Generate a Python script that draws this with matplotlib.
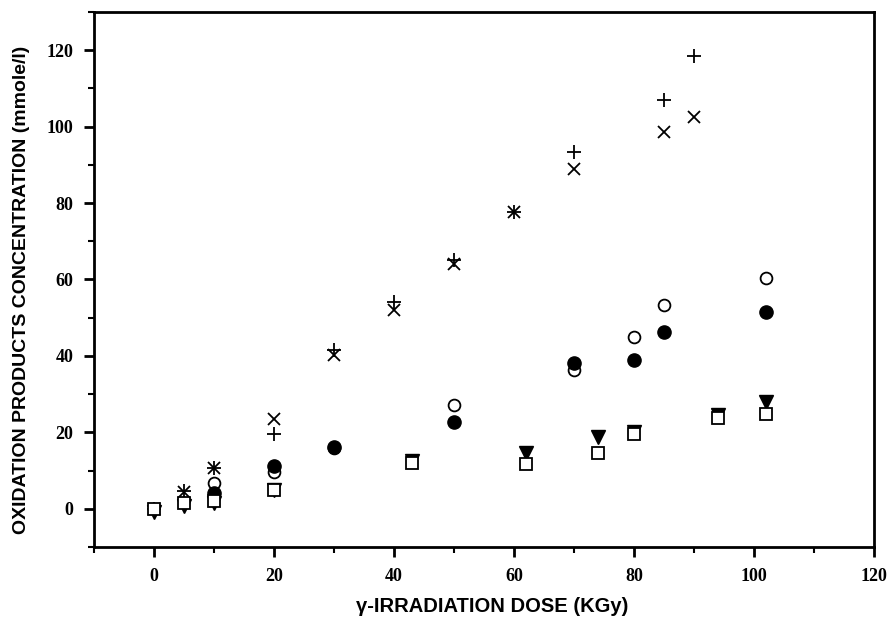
import numpy as np
import matplotlib.pyplot as plt
from matplotlib.ticker import MultipleLocator

# dose (KGy) vs concentration (mmole/l)
plus_x = [0, 5, 10, 20, 30, 40, 50, 60, 70, 85, 90]
plus_y = [0, 4.7, 10.7, 19.6, 41.5, 54.0, 65.2, 77.6, 93.4, 107.1, 118.4]

cross_x = [0, 5, 10, 20, 30, 40, 50, 60, 70, 85, 90]
cross_y = [0, 4.5, 10.7, 23.6, 40.3, 52.0, 64.0, 77.6, 88.9, 98.7, 102.6]

open_circ_x = [10, 20, 30, 50, 70, 80, 85, 102]
open_circ_y = [6.8, 9.5, 16.0, 27.1, 36.3, 45.0, 53.2, 60.3]

fill_circ_x = [10, 20, 30, 50, 70, 80, 85, 102]
fill_circ_y = [4.2, 11.3, 16.1, 22.7, 38.2, 39.0, 46.3, 51.6]

tri_x = [0, 5, 10, 20, 43, 62, 74, 80, 94, 102]
tri_y = [-0.9, 0.8, 1.6, 4.8, 12.6, 14.7, 18.7, 20.2, 24.6, 27.9]

sq_x = [0, 5, 10, 20, 43, 62, 74, 80, 94, 102]
sq_y = [0, 1.6, 2.1, 5.0, 12.1, 11.8, 14.7, 19.5, 23.7, 24.7]

plt.rcParams['font.family'] = 'Liberation Serif'
plt.rcParams['font.weight'] = 'bold'

fig = plt.figure(figsize=(8.91, 6.19), dpi=100)
ax = fig.add_axes([94/891, 1 - 547/619, (874-94)/891, (547-12)/619])

ax.plot(plus_x, plus_y, ls='none', marker='+', ms=10, mew=1.3, color='black')
ax.plot(cross_x, cross_y, ls='none', marker='x', ms=9, mew=1.3, color='black')
ax.plot(tri_x, tri_y, ls='none', marker='v', ms=10, color='black')
ax.plot(open_circ_x, open_circ_y, ls='none', marker='o', ms=8.5, mew=1.3, mfc='white', color='black')
ax.plot(fill_circ_x, fill_circ_y, ls='none', marker='o', ms=9.5, color='black')
ax.plot(sq_x, sq_y, ls='none', marker='s', ms=8, mew=1.3, mfc='white', color='black')

ax.set_xlim(-10, 120)
ax.set_ylim(-10, 130)
ax.xaxis.set_major_locator(MultipleLocator(20))
ax.xaxis.set_minor_locator(MultipleLocator(10))
ax.yaxis.set_major_locator(MultipleLocator(20))
ax.yaxis.set_minor_locator(MultipleLocator(10))
ax.set_yticks(np.arange(0, 121, 20))

for s in ax.spines.values():
    s.set_linewidth(2)
ax.tick_params(which='major', direction='out', length=7, width=2, pad=8, labelsize=13)
ax.tick_params(which='minor', direction='out', length=4, width=1.5)

ax.set_xlabel('\u03b3-IRRADIATION DOSE (KGy)', fontfamily='Liberation Sans',
              fontweight='bold', fontsize=14.5, labelpad=9, x=0.51)
ax.set_ylabel('OXIDATION PRODUCTS CONCENTRATION (mmole/l)', fontfamily='Liberation Sans',
              fontweight='bold', fontsize=14, labelpad=12, y=0.48)

plt.savefig('out.png', dpi=100)
